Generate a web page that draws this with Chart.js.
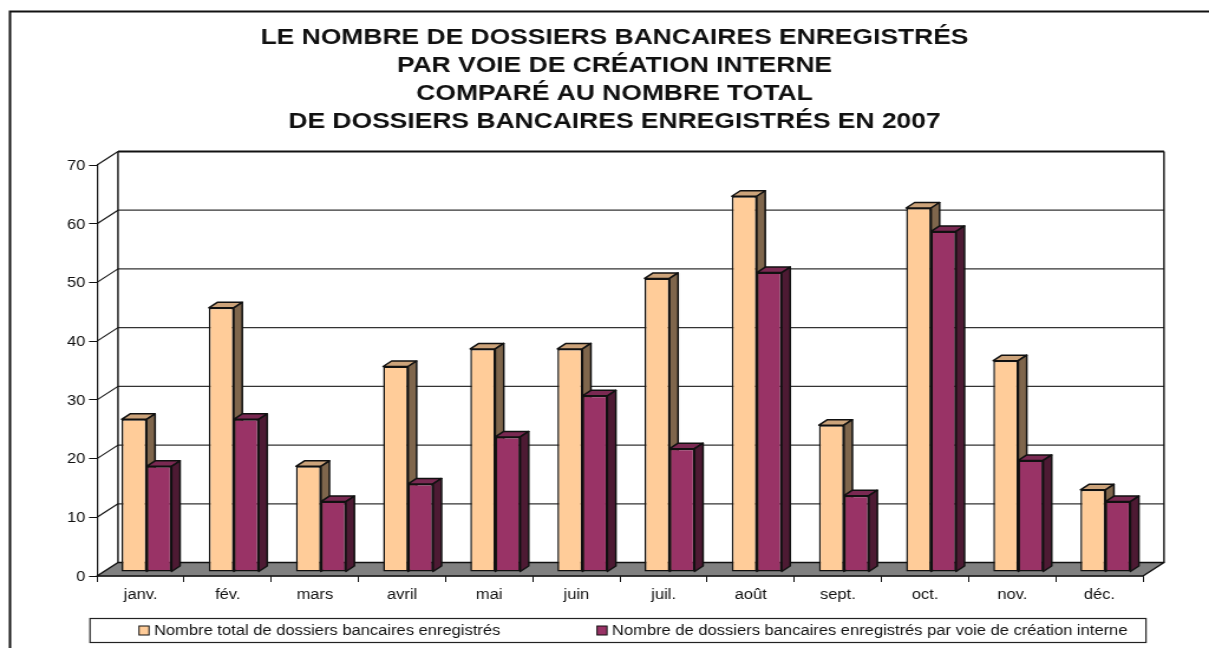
<!DOCTYPE html>
<html lang="fr">
<head>
<meta charset="utf-8">
<title>Dossiers bancaires 2007</title>
<script src="https://cdn.jsdelivr.net/npm/chart.js@4"></script>
<style>
    html, body { margin: 0; background: #fff; }
    canvas { display: block; }
</style>
</head>
<body>
<!-- the reference is a stretched picture: the chart is laid out at 1024 wide and shown at 1209 -->
<canvas id="chart" width="1024" height="648" style="width:1209px;height:648px"></canvas>
<script>
const months = ['janv.', 'fév.', 'mars', 'avril', 'mai', 'juin', 'juil.', 'août', 'sept.', 'oct.', 'nov.', 'déc.'];
const totalDossiers = [26, 45, 18, 35, 38, 38, 50, 64, 25, 62, 36, 14];
const interneDossiers = [18, 26, 12, 15, 23, 30, 21, 51, 13, 58, 19, 12];
const titleLines = [
    'LE NOMBRE DE DOSSIERS BANCAIRES ENREGISTRÉS',
    'PAR VOIE DE CRÉATION INTERNE',
    'COMPARÉ AU NOMBRE TOTAL',
    'DE DOSSIERS BANCAIRES ENREGISTRÉS EN 2007'
];
const totalLabel = 'Nombre total de dossiers bancaires enregistrés';
const interneLabel = 'Nombre de dossiers bancaires enregistrés par voie de création interne';

const FONT = '"Liberation Sans", Arial, sans-serif';
const INK = '#111';

// Screen pixels to canvas units on the x axis
const sx = px => px * 1024 / 1209;

// Offsets of the fake 3D box: back wall and bars, relative to the front plane
const wallDx = sx(21), wallDy = 13.5;
const barDx = sx(6), barDy = 4;
const sideDx = sx(8.5), sideDy = 5.5;

const line = (ctx, pts, color, width) => {
    ctx.beginPath();
    pts.forEach((p, i) => i ? ctx.lineTo(p[0], p[1]) : ctx.moveTo(p[0], p[1]));
    ctx.strokeStyle = color;
    ctx.lineWidth = width;
    ctx.stroke();
};

const face = (ctx, pts, fill) => {
    ctx.beginPath();
    pts.forEach((p, i) => i ? ctx.lineTo(p[0], p[1]) : ctx.moveTo(p[0], p[1]));
    ctx.closePath();
    ctx.fillStyle = fill;
    ctx.fill();
    ctx.strokeStyle = INK;
    ctx.lineWidth = 1.5;
    ctx.lineJoin = 'round';
    ctx.stroke();
};

// Top and side of every bar of one dataset
const drawBarFaces = (chart, index) => {
    const { ctx } = chart;
    const ds = chart.data.datasets[index];
    chart.getDatasetMeta(index).data.forEach(bar => {
        const l = bar.x - bar.width / 2, r = bar.x + bar.width / 2;
        face(ctx, [[l, bar.y], [l + sideDx, bar.y - sideDy], [r + sideDx, bar.y - sideDy], [r, bar.y]], ds.topColor);
        face(ctx, [[r, bar.y], [r + sideDx, bar.y - sideDy], [r + sideDx, bar.base - sideDy], [r, bar.base]], ds.sideColor);
    });
};

const box3d = {
    id: 'box3d',
    // The title is centred a little right of the page centre
    afterLayout(chart) {
        chart.titleBlock.left += sx(26);
    },
    // Outer frame, walls, floor and gridlines behind the bars
    beforeDatasetsDraw(chart) {
        const { ctx, chartArea: a, scales } = chart;
        ctx.save();
        line(ctx, [[sx(10), 648], [sx(10), 11.5], [1024, 11.5]], INK, 2);

        face(ctx, [[a.left, a.bottom], [a.left + wallDx, a.bottom - wallDy], [a.right + wallDx, a.bottom - wallDy], [a.right, a.bottom]], '#808080');

        scales.y.ticks.forEach(t => {
            const y = scales.y.getPixelForValue(t.value);
            if (t.value === 0) return;
            line(ctx, [[a.left, y], [a.left + wallDx, y - wallDy]], INK, 1.1);
            line(ctx, [[a.left + wallDx, y - wallDy], [a.right + wallDx, y - wallDy]], t.value === 70 ? INK : '#333', t.value === 70 ? 2 : 1.2);
        });
        line(ctx, [[a.left + wallDx, a.top - wallDy], [a.left + wallDx, a.bottom - wallDy]], INK, 1.4);
        line(ctx, [[a.right + wallDx, a.top - wallDy], [a.right + wallDx, a.bottom - wallDy]], INK, 1.4);

        // Side faces go first so the purple fronts cover the peach sides
        ctx.translate(barDx, -barDy);
        drawBarFaces(chart, 0);
        drawBarFaces(chart, 1);
        ctx.restore();
    },
    // Bars sit halfway into the box, so each dataset is drawn shifted
    beforeDatasetDraw(chart) {
        chart.ctx.save();
        chart.ctx.translate(barDx, -barDy);
    },
    afterDatasetDraw(chart) {
        chart.ctx.restore();
    },
    // Legend in its bordered box
    afterDraw(chart) {
        const { ctx } = chart;
        const ds = chart.data.datasets;
        ctx.save();
        ctx.strokeStyle = '#222';
        ctx.lineWidth = 1.2;
        ctx.strokeRect(sx(90), 618.5, sx(1056), 24);
        ctx.font = '14px ' + FONT;
        ctx.textBaseline = 'middle';
        [[sx(139), ds[0]], [sx(597), ds[1]]].forEach(([x, d]) => {
            ctx.fillStyle = d.backgroundColor;
            ctx.strokeStyle = INK;
            ctx.lineWidth = 1;
            ctx.fillRect(x, 626, sx(10), 9);
            ctx.strokeRect(x, 626, sx(10), 9);
            ctx.fillStyle = INK;
            ctx.fillText(d.label, x + sx(15), 631);
        });
        ctx.restore();
    }
};

new Chart(document.getElementById('chart'), {
    type: 'bar',
    data: {
        labels: months,
        datasets: [
            { label: totalLabel, data: totalDossiers, backgroundColor: '#FFCC99', topColor: '#CCA37A', sideColor: '#7F664C' },
            { label: interneLabel, data: interneDossiers, backgroundColor: '#993366', topColor: '#7A2952', sideColor: '#4D1A33' }
        ]
    },
    options: {
        responsive: false,
        animation: false,
        layout: { padding: { top: 24, right: sx(66), bottom: 0, left: sx(60) } },
        datasets: {
            bar: {
                categoryPercentage: 0.573,
                barPercentage: 1,
                borderColor: INK,
                borderWidth: 1.5,
                borderSkipped: false,
                clip: false
            }
        },
        plugins: {
            legend: { display: false },
            tooltip: { enabled: false },
            title: {
                display: true,
                text: titleLines,
                color: INK,
                align: 'center',
                font: { family: FONT, size: 22.4, weight: 'bold', lineHeight: 28 / 22.4 },
                padding: { top: 0, bottom: 29 }
            }
        },
        scales: {
            x: {
                afterFit: s => { s.height = 72; },
                grid: { offset: true, drawOnChartArea: false, drawTicks: true, tickLength: 6, color: INK },
                border: { color: INK, width: 1.2 },
                ticks: { color: INK, font: { family: FONT, size: 14 }, padding: 5, maxRotation: 0 }
            },
            y: {
                min: 0,
                max: 70,
                afterFit: s => { s.width = sx(37); },
                grid: { drawOnChartArea: false, drawTicks: true, tickLength: sx(8), color: INK },
                border: { color: INK, width: 1.2 },
                ticks: { stepSize: 10, color: INK, font: { family: FONT, size: 14 }, padding: 3, labelOffset: 1 }
            }
        }
    },
    plugins: [box3d]
});
</script>
</body>
</html>
